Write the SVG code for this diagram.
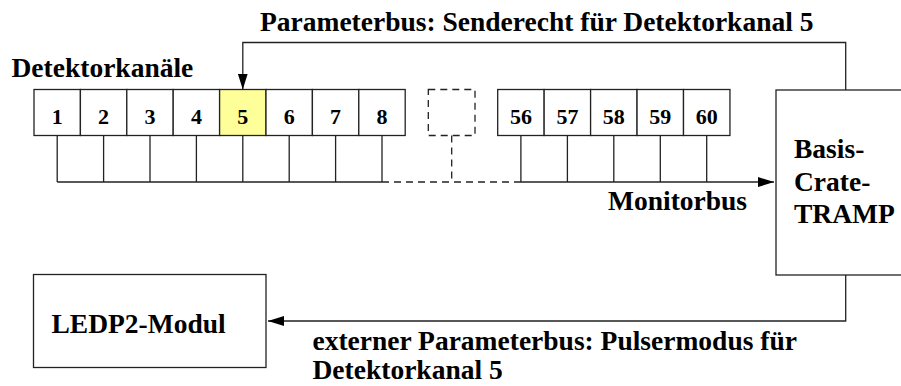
<svg xmlns="http://www.w3.org/2000/svg" width="901" height="386" viewBox="0 0 901 386">
<style>
.box{fill:#fff;stroke:#222;stroke-width:1.3}
.dash{fill:none;stroke:#222;stroke-width:1.3;stroke-dasharray:7 5}
.ln{fill:none;stroke:#222;stroke-width:1.3}
.lbl{font-family:"Liberation Serif","Times New Roman",serif;font-weight:bold;font-size:27.5px;fill:#000}
.num{font-family:"Liberation Serif","Times New Roman",serif;font-weight:bold;font-size:22px;fill:#000;text-anchor:middle}
</style>
<defs>
<marker id="arr" markerWidth="16" markerHeight="10" refX="16" refY="5" orient="auto" markerUnits="userSpaceOnUse">
<path d="M0,0 L16,5 L0,10 Z" fill="#000"/>
</marker>
</defs>
<rect width="901" height="386" fill="#fff"/>
<text class="lbl" x="11.5" y="76.5">Detektorkanäle</text>
<g id="ch1"><rect class="box" x="34" y="89.5" width="46.4" height="46"/><text class="num" x="57.2" y="124">1</text></g>
<g id="ch2"><rect class="box" x="80.4" y="89.5" width="46.4" height="46"/><text class="num" x="103.6" y="124">2</text></g>
<g id="ch3"><rect class="box" x="126.8" y="89.5" width="46.4" height="46"/><text class="num" x="150" y="124">3</text></g>
<g id="ch4"><rect class="box" x="173.2" y="89.5" width="46.4" height="46"/><text class="num" x="196.4" y="124">4</text></g>
<g id="ch5"><rect class="box" x="219.6" y="89.5" width="46.4" height="46" style="fill:#ffff99"/><text class="num" x="242.8" y="124">5</text></g>
<g id="ch6"><rect class="box" x="266" y="89.5" width="46.4" height="46"/><text class="num" x="289.2" y="124">6</text></g>
<g id="ch7"><rect class="box" x="312.4" y="89.5" width="46.4" height="46"/><text class="num" x="335.6" y="124">7</text></g>
<g id="ch8"><rect class="box" x="358.8" y="89.5" width="46.4" height="46"/><text class="num" x="382" y="124">8</text></g>
<g id="chdots"><rect class="dash" x="428.3" y="89.5" width="46.7" height="46"/></g>
<g id="ch56"><rect class="box" x="497.7" y="89.5" width="46.45" height="46"/><text class="num" x="520.9" y="124">56</text></g>
<g id="ch57"><rect class="box" x="544.15" y="89.5" width="46.45" height="46"/><text class="num" x="567.4" y="124">57</text></g>
<g id="ch58"><rect class="box" x="590.6" y="89.5" width="46.45" height="46"/><text class="num" x="613.8" y="124">58</text></g>
<g id="ch59"><rect class="box" x="637.05" y="89.5" width="46.45" height="46"/><text class="num" x="660.3" y="124">59</text></g>
<g id="ch60"><rect class="box" x="683.5" y="89.5" width="46.45" height="46"/><text class="num" x="706.7" y="124">60</text></g>
<g id="tramp"><rect class="box" x="776" y="90" width="140" height="185"/>
<text class="lbl" x="794" y="158">Basis-</text>
<text class="lbl" x="794" y="190.5">Crate-</text>
<text class="lbl" x="794" y="223">TRAMP</text></g>
<g id="ledp2"><rect class="box" x="33.5" y="274.5" width="232.5" height="93"/>
<text class="lbl" x="51.5" y="333">LEDP2-Modul</text></g>
<g id="connectors">
<path class="ln" d="M57.2,135.5V182M103.6,135.5V182M150,135.5V182M196.4,135.5V182M242.8,135.5V182M289.2,135.5V182M335.6,135.5V182M382,135.5V182M57.2,182H382"/>
<path class="dash" d="M382,182H521M451.7,135.5V182"/>
<path class="ln" d="M520.9,135.5V182M567.4,135.5V182M613.8,135.5V182M660.3,135.5V182M706.7,135.5V182"/>
<path class="ln" d="M520.9,182H774" marker-end="url(#arr)"/>
<path class="ln" d="M845.7,90V42.5H242.8V89.5" marker-end="url(#arr)"/>
<path class="ln" d="M845.7,275V321H268" marker-end="url(#arr)"/>
<text class="lbl" x="260" y="31">Parameterbus: Senderecht für Detektorkanal 5</text>
<text class="lbl" x="608" y="210">Monitorbus</text>
<text class="lbl" x="312.5" y="350">externer Parameterbus: Pulsermodus für</text>
<text class="lbl" x="312.5" y="378.5">Detektorkanal 5</text>
</g>
</svg>
